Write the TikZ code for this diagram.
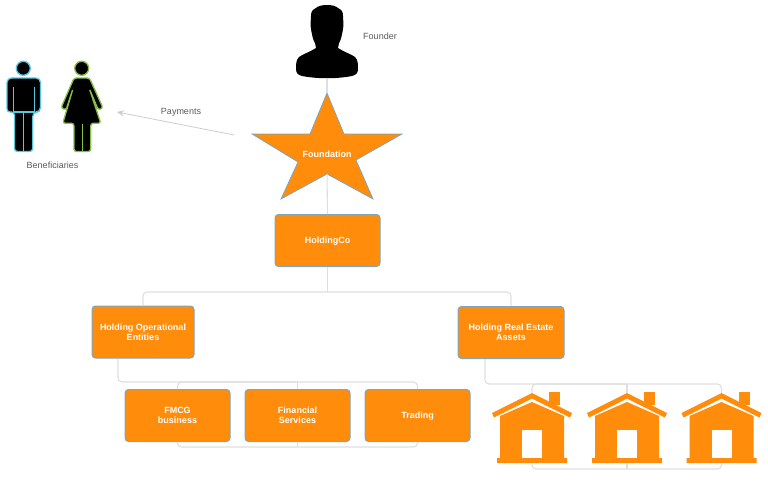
\documentclass[tikz,border=0pt]{standalone}
\usepackage{fontspec}
\setmainfont{Liberation Sans}
\usepackage{tikz}
\usetikzlibrary{arrows.meta}

\definecolor{boxfill}{HTML}{FF8C0A}
\definecolor{boxline}{HTML}{7FA6BF}
\definecolor{starline}{HTML}{6FA8D0}
\definecolor{linkgray}{HTML}{DEDEDE}
\definecolor{paygray}{HTML}{CDCDCD}
\definecolor{labelgray}{HTML}{5A5A5A}
\definecolor{mancyan}{HTML}{55C8E0}
\definecolor{womangreen}{HTML}{86BE46}

\tikzset{
  entity/.style={draw=boxline, line width=1pt, fill=boxfill, rounded corners=3.5pt,
    minimum width=#1, minimum height=52pt, inner sep=0pt, align=center,
    text=white, font=\fontsize{9}{10}\selectfont},
  entity/.default=105pt,
  link/.style={draw=linkgray, line width=1.1pt, rounded corners=4pt},
  caption/.style={text=labelgray, font=\fontsize{9}{10}\selectfont, inner sep=0pt},
  figure/.style={draw=#1, fill=black, line width=1.3pt, rounded corners=2.5pt},
  houseicon/.pic={
    \fill[boxfill] (-32,23) -- (0,9) -- (32,23) -- (32,65) -- (35,65) -- (35,70)
      -- (-35,70) -- (-35,65) -- (-32,65) -- cycle;
    \fill[white] (-10,37) rectangle (10,65);
    \fill[boxfill] (17,-1) rectangle (28,12);
    \fill[boxfill] (-40,20) -- (0,0) -- (40,20) -- (38,24.5) -- (0,5.5) -- (-38,24.5) -- cycle;
  }
}

\begin{document}
\begin{tikzpicture}[x=1pt, y=-1pt, auto, >=stealth]
  \useasboundingbox (0,0) rectangle (768,485);

  % founder bust
  \fill[black] (327,5) .. controls (322,5) and (318,6) .. (316,8)
    .. controls (312,10) and (311,12) .. (311,16)
    .. controls (311,20) and (310,24) .. (311,29)
    .. controls (312,35) and (313,40) .. (315,43)
    -- (316,48) .. controls (310,52) and (303,54) .. (299,57)
    .. controls (296,60) and (296,64) .. (296,69)
    .. controls (296,73) and (298,75) .. (302,76)
    .. controls (318,79) and (336,79) .. (352,76)
    .. controls (356,75) and (358,73) .. (358,69)
    .. controls (358,64) and (358,60) .. (355,57)
    .. controls (351,54) and (344,52) .. (338,48)
    -- (339,43) .. controls (341,40) and (342,35) .. (343,29)
    .. controls (344,24) and (343,20) .. (343,16)
    .. controls (343,12) and (342,10) .. (338,8)
    .. controls (336,6) and (332,5) .. (327,5) -- cycle;
  \coordinate (founder) at (327,78);
  \node[caption] (founderlabel) at (380,36) {Founder};

  % man
  \filldraw[figure=mancyan] (23.3,68.3) circle[radius=7];
  \filldraw[figure=mancyan, rounded corners=4.5pt]
    (7,112) -- (7,78) -- (40.5,78) -- (40.5,112) -- (32.7,112)
    [rounded corners=3pt] -- (32.7,151.5) -- (14.5,151.5) -- (14.5,112) -- cycle;
  \draw[draw=mancyan, line width=1.1pt] (13.3,87) -- (13.3,112) -- (34.3,112) -- (34.3,87);
  \draw[draw=mancyan, line width=1.3pt] (23.5,112) -- (23.5,151);

  % woman
  \filldraw[figure=womangreen] (81.7,68.3) circle[radius=7];
  \filldraw[figure=womangreen]
    (74,78) -- (89.5,78) -- (103,108) -- (98.3,110) -- (89.3,88.5) -- (100.8,123.3)
    -- (90.7,123.3) -- (90.7,151.5) -- (74,151.5) -- (74,123.3) -- (62.8,123.3)
    -- (73,88.5) -- (66,110) -- (61,108) -- cycle;
  \draw[draw=womangreen, line width=1.3pt] (82.4,124) -- (82.4,151);
  \node[caption] (benelabel) at (52.5,165) {Beneficiaries};

  % foundation star
  \filldraw[draw=starline, line width=0.7pt, fill=boxfill]
    (327,93) -- (344,134) -- (402,134) -- (356,160) -- (373,199) -- (327,174)
    -- (281,199) -- (298,162) -- (252,134) -- (310,134) -- cycle;
  \coordinate (startop) at (327,93);
  \coordinate (starnotch) at (327,174);
  \node[text=white, font=\fontsize{9}{10}\selectfont\bfseries, inner sep=0pt] (foundation) at (327,154) {Foundation};

  % payments arrow
  \coordinate (paystart) at (234,135);
  \coordinate (payend) at (117,112);
  \draw[-{Stealth[length=7pt,width=6pt]}, draw=paygray, line width=0.8pt] (paystart) -- (payend);
  \node[caption] (paylabel) at (181,112) {Payments};

  % entities
  \node[entity, text depth=0pt] (holding) at (327.5,240.5) {\textbf{HoldingCo}};
  \node[entity=102pt] (operational) at (143,332) {\textbf{Holding Operational}\\\textbf{Entities}};
  \node[entity=106pt] (realestate) at (511,332.5) {\textbf{Holding Real Estate}\\\textbf{Assets}};
  \node[entity] (fmcg) at (177.5,415.5) {\textbf{FMCG}\\\textbf{business}};
  \node[entity] (financial) at (297.5,415.5) {\textbf{Financial}\\\textbf{Services}};
  \node[entity, text depth=0pt] (trading) at (417.5,415.5) {\textbf{Trading}};

  % houses
  \pic (houseone) at (532,393) {houseicon};
  \pic (housetwo) at (627,393) {houseicon};
  \pic (housethree) at (721.5,393) {houseicon};
  \coordinate (roofone) at (532,393);
  \coordinate (rooftwo) at (627,393);
  \coordinate (roofthree) at (721.5,393);
  \coordinate (floorone) at (532,463);
  \coordinate (floortwo) at (627,463);
  \coordinate (floorthree) at (721.5,463);

  % connectors
  \draw[link] (founder) -- (startop);
  \draw[link] (starnotch) -- (holding.north);
  \draw[link] (holding.south) -- (327.5,292);
  \draw[link] (operational.north) |- (327.5,292) -| (realestate.north);

  \draw[link] (operational.south-|118,0) |- (297.5,382);
  \draw[link] (fmcg.north) |- (297.5,382) -| (trading.north);
  \draw[link] (financial.north) -- (297.5,382);
  \draw[link] (fmcg.south) |- (297.5,447) -| (trading.south);
  \draw[link] (financial.south) -- (297.5,447);

  \draw[link] (realestate.south-|485,0) |- (627,384);
  \draw[link] (roofone) |- (627,384) -| (roofthree);
  \draw[link] (rooftwo) -- (627,384);
  \draw[link] (floorone) |- (627,469) -| (floorthree);
  \draw[link] (floortwo) -- (627,469);
\end{tikzpicture}
\end{document}
